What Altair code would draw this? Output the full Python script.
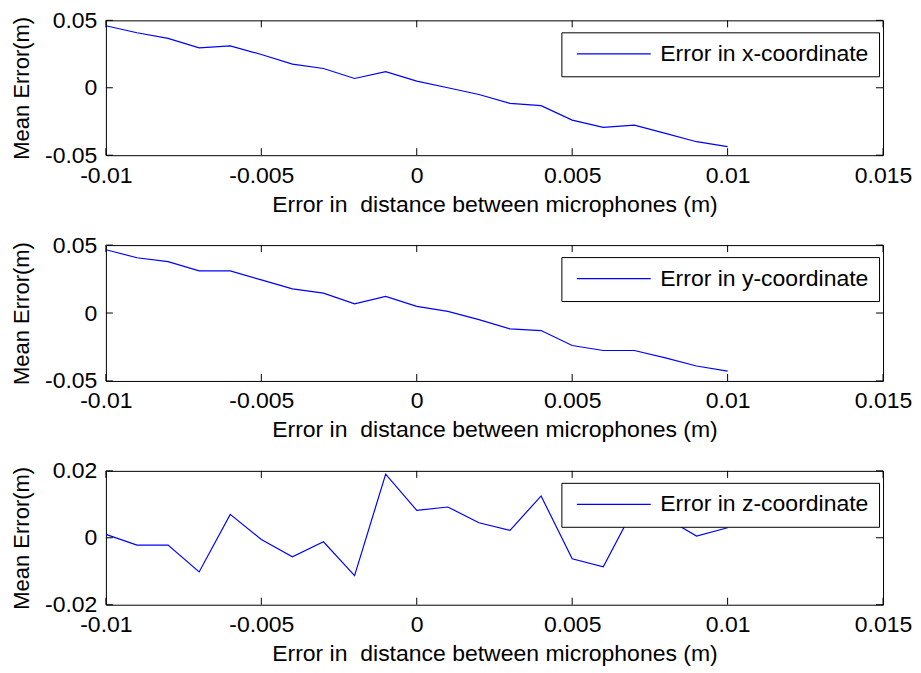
import altair as alt
import pandas as pd

# ---- data ----
x_vals = [-0.010, -0.009, -0.008, -0.007, -0.006, -0.005, -0.004, -0.003, -0.002, -0.001,
          0.000, 0.001, 0.002, 0.003, 0.004, 0.005, 0.006, 0.007, 0.008, 0.009, 0.010]
err_x = [0.0460, 0.0408, 0.0366, 0.0296, 0.0310, 0.0247, 0.0175, 0.0143, 0.0069, 0.0119,
         0.0049, 0.0000, -0.0050, -0.0116, -0.0133, -0.0240, -0.0294, -0.0277, -0.0338, -0.0400, -0.0437]
err_y = [0.0466, 0.0407, 0.0378, 0.0310, 0.0310, 0.0244, 0.0178, 0.0146, 0.0068, 0.0122,
         0.0049, 0.0012, -0.0049, -0.0117, -0.0129, -0.0239, -0.0276, -0.0276, -0.0330, -0.0390, -0.0427]
err_z = [0.0010, -0.0022, -0.0022, -0.0102, 0.0070, -0.0005, -0.0057, -0.0012, -0.0113, 0.0190,
         0.0082, 0.0092, 0.0045, 0.0022, 0.0125, -0.0063, -0.0087, 0.0090, 0.0060, 0.0005, 0.0030]

series_names = ["Error in x-coordinate", "Error in y-coordinate", "Error in z-coordinate"]
x_ticks = [-0.01, -0.005, 0.0, 0.005, 0.01, 0.015]
y_ticks_xy = [-0.05, 0.0, 0.05]
y_ticks_z = [-0.02, 0.0, 0.02]
x_domain = [-0.01, 0.015]
y_domain_xy = [-0.05, 0.05]
y_domain_z = [-0.02, 0.02]
x_title = "Error in\u00a0 distance between microphones (m)"
y_title = "Mean Error(m)"

W = 778
TICK = 7
FONT = "Liberation Sans"
BLUE = "#0000ff"
LABEL_EXPR = "replace(format(datum.value, '~g'), '\u2212', '-')"


def panel(yvals, name, key, yticks, ydom, H):
    df = pd.DataFrame({"x": x_vals, "y": yvals, key: [name] * len(x_vals)})
    xs = alt.Scale(domain=x_domain, nice=False, zero=False)
    ys = alt.Scale(domain=ydom, nice=False, zero=False)
    xax = alt.Axis(values=x_ticks, title=x_title, labelExpr=LABEL_EXPR)
    yax = alt.Axis(values=yticks, title=y_title, labelExpr=LABEL_EXPR)

    line = alt.Chart(df).mark_line(strokeWidth=1.2, clip=True).encode(
        x=alt.X("x:Q", scale=xs, axis=xax),
        y=alt.Y("y:Q", scale=ys, axis=yax),
        color=alt.Color(f"{key}:N",
                        scale=alt.Scale(domain=[name], range=[BLUE]),
                        legend=alt.Legend(title=None, orient="none", legendX=456, legendY=12,
                                          direction="vertical", fillColor="white",
                                          strokeColor="black", padding=10, cornerRadius=0,
                                          symbolType="M-3.7,0H3.7", symbolSize=400,
                                          symbolStrokeColor=BLUE,
                                          symbolStrokeWidth=1.2, symbolOffset=31,
                                          labelFont=FONT, labelFontSize=23, labelColor="black",
                                          labelOffset=35, labelLimit=500, zindex=1)),
    )

    xt = pd.DataFrame({"x": x_ticks})
    yt = pd.DataFrame({"y": yticks})
    rx = alt.X("x:Q", scale=xs, axis=xax)
    ry = alt.Y("y:Q", scale=ys, axis=yax)
    x_bot = alt.Chart(xt).mark_rule(color="black").encode(x=rx, y=alt.value(H), y2=alt.value(H - TICK))
    x_top = alt.Chart(xt).mark_rule(color="black").encode(x=rx, y=alt.value(0), y2=alt.value(TICK))
    y_lft = alt.Chart(yt).mark_rule(color="black").encode(y=ry, x=alt.value(0), x2=alt.value(TICK))
    y_rgt = alt.Chart(yt).mark_rule(color="black").encode(y=ry, x=alt.value(W), x2=alt.value(W - TICK))

    return alt.layer(line, x_bot, x_top, y_lft, y_rgt).properties(width=W, height=H)


p1 = panel(err_x, series_names[0], "sx", y_ticks_xy, y_domain_xy, 135)
p2 = panel(err_y, series_names[1], "sy", y_ticks_xy, y_domain_xy, 136)
p3 = panel(err_z, series_names[2], "sz", y_ticks_z, y_domain_z, 134)

chart = (
    alt.vconcat(p1, p2, p3, spacing=16)
    .resolve_scale(color="independent")
    .resolve_legend(color="independent")
    .configure_view(stroke="black", strokeWidth=1)
    .configure_axis(domain=False, ticks=False, tickSize=0, grid=False,
                    labelFont=FONT, labelFontSize=23, labelColor="black", labelPadding=9,
                    labelFlush=False, labelOverlap=False, labelBound=False,
                    titleFont=FONT, titleFontSize=23, titleFontWeight="normal", titleColor="black")
    .configure_axisX(titlePadding=6)
    .configure_axisY(titlePadding=11, titleFontSize=22)
    .properties(padding={"left": 2, "top": 0, "right": 0, "bottom": 0}, background="white")
)

chart.save("out.html", embed_options={"renderer": "svg", "actions": False})
